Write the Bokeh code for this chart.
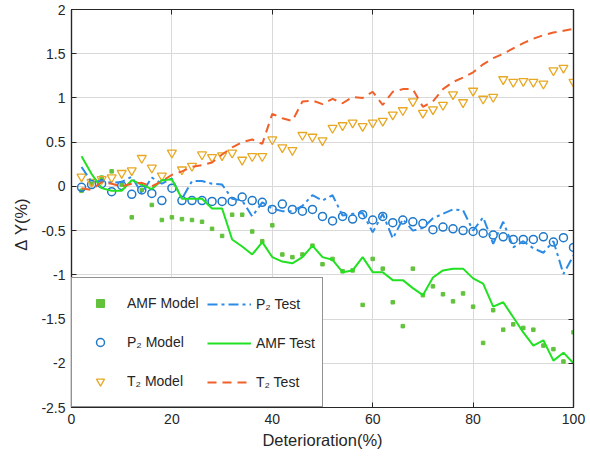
from bokeh.plotting import figure
from bokeh.models import Legend, LegendItem, LinearAxis, FixedTicker, Range1d
from bokeh.embed import file_html
from bokeh.resources import INLINE

# ---------------- data ----------------
deterioration = [2, 4, 6, 8, 10, 12, 14, 16, 18, 20, 22, 24, 26, 28, 30, 32, 34, 36, 38, 40,
                 42, 44, 46, 48, 50, 52, 54, 56, 58, 60, 62, 64, 66, 68, 70, 72, 74, 76, 78, 80,
                 82, 84, 86, 88, 90, 92, 94, 96, 98, 100]

amf_model = [-0.05, 0.03, 0.10, 0.17, 0.02, -0.35, -0.04, -0.21, -0.38, -0.35,
             -0.37, -0.38, -0.40, -0.48, -0.56, -0.32, -0.32, -0.51, -0.62, -0.44,
             -0.77, -0.80, -0.77, -0.67, -0.88, -0.82, -0.96, -0.95, -1.34, -0.82,
             -0.93, -1.31, -1.58, -0.93, -1.23, -1.13, -1.22, -1.30, -1.21, -1.36,
             -1.77, -1.40, -1.62, -1.56, -1.60, -1.62, -1.80, -1.84, -1.98, -1.65]

p2_model = [-0.01, 0.02, 0.03, -0.06, 0.01, -0.09, -0.04, -0.08, -0.16, -0.02,
            -0.16, -0.16, -0.16, -0.17, -0.17, -0.17, -0.12, -0.16, -0.18, -0.26,
            -0.20, -0.26, -0.28, -0.26, -0.34, -0.39, -0.34, -0.37, -0.32, -0.38,
            -0.34, -0.41, -0.38, -0.40, -0.42, -0.49, -0.46, -0.48, -0.50, -0.51,
            -0.53, -0.55, -0.57, -0.60, -0.60, -0.60, -0.57, -0.63, -0.58, -0.69]

t2_model = [0.11, 0.05, 0.08, 0.10, 0.15, 0.18, 0.32, 0.21, 0.12, 0.38,
            0.19, 0.23, 0.36, 0.33, 0.35, 0.38, 0.30, 0.34, 0.34, 0.53,
            0.44, 0.41, 0.58, 0.56, 0.52, 0.66, 0.69, 0.72, 0.68, 0.72,
            0.74, 0.81, 0.86, 0.96, 0.83, 0.87, 0.92, 1.04, 0.95, 1.08,
            0.99, 1.01, 1.21, 1.18, 1.19, 1.18, 1.16, 1.31, 1.34, 1.18]

p2_test = [0.22, 0.05, 0.06, 0.04, 0.05, 0.11, -0.08, 0.10, 0.03, 0.09,
           -0.14, 0.06, 0.06, 0.03, 0.02, -0.14, -0.16, -0.34, -0.18, -0.25,
           -0.28, -0.28, -0.22, -0.10, -0.16, -0.10, -0.33, -0.31, -0.30, -0.52,
           -0.31, -0.59, -0.37, -0.50, -0.47, -0.36, -0.31, -0.26, -0.27, -0.50,
           -0.35, -0.65, -0.40, -0.69, -0.62, -0.70, -0.75, -0.62, -0.99, -0.78]

amf_test = [0.34, 0.14, -0.02, -0.05, -0.05, 0.07, 0.02, -0.03, 0.07, 0.08,
            -0.14, -0.14, -0.14, -0.25, -0.25, -0.60, -0.68, -0.77, -0.63, -0.80,
            -0.85, -0.87, -0.80, -0.67, -0.80, -0.83, -0.97, -0.95, -0.80, -0.97,
            -0.97, -1.06, -1.06, -1.15, -1.23, -1.03, -0.95, -0.93, -0.93, -1.04,
            -1.10, -1.36, -1.31, -1.48, -1.65, -1.80, -1.74, -1.97, -1.88, -2.00]

t2_test = [-0.02, -0.04, 0.05, 0.03, 0.00, 0.03, 0.04, 0.00, 0.06, 0.13,
           0.17, 0.22, 0.24, 0.27, 0.36, 0.44, 0.50, 0.53, 0.48, 0.82,
           0.77, 0.74, 0.96, 0.97, 0.93, 0.99, 0.94, 1.01, 1.00, 1.07,
           0.92, 1.07, 1.10, 1.10, 0.90, 0.96, 1.10, 1.18, 1.23, 1.29,
           1.38, 1.45, 1.50, 1.56, 1.62, 1.67, 1.71, 1.74, 1.76, 1.78]

x_ticks = [0, 20, 40, 60, 80, 100]
y_ticks = [-2.5, -2, -1.5, -1, -0.5, 0, 0.5, 1, 1.5, 2]
y_tick_labels = ["-2.5", "-2", "-1.5", "-1", "-0.5", "0", "0.5", "1", "1.5", "2"]

# ---------------- styling ----------------
FONT = "Liberation Sans"
AX = "#262626"
C_AMF_M = "#62c23c"
C_P2 = "#1f78c8"
C_T2_M = "#e8a823"
C_P2_T = "#2b8be6"
C_AMF_T = "#22e022"
C_T2_T = "#f0612a"

p = figure(width=588, height=454, output_backend="svg", toolbar_location=None,
           x_range=Range1d(0, 100), y_range=Range1d(-2.5, 2),
           min_border_left=71, min_border_right=15, min_border_top=9, min_border_bottom=47,
           background_fill_color="white", border_fill_color="white")
p.outline_line_color = AX
p.outline_line_width = 1.2

p.xaxis.ticker = FixedTicker(ticks=x_ticks)
p.yaxis.ticker = FixedTicker(ticks=y_ticks)
p.yaxis.major_label_overrides = {v: s for v, s in zip(y_ticks, y_tick_labels)}
for ax in (p.xaxis[0], p.yaxis[0]):
    ax.major_tick_in = 5
    ax.major_tick_out = 0
    ax.minor_tick_in = 0
    ax.minor_tick_out = 0
    ax.axis_line_color = AX
    ax.axis_line_width = 1.2
    ax.major_tick_line_color = AX
    ax.major_label_text_font = FONT
    ax.major_label_text_font_size = "14px"
    ax.major_label_text_color = AX
    ax.axis_label_text_font = FONT
    ax.axis_label_text_font_size = "16.5px"
    ax.axis_label_text_font_style = "normal"
    ax.axis_label_text_color = AX
p.xaxis.axis_label = "Deterioration(%)"
p.yaxis.axis_label = "\u0394\u00a0Y(%)" + "\u00a0" * 7
p.xaxis.major_label_standoff = 6
p.yaxis.major_label_standoff = 6
p.xaxis.axis_label_standoff = 4
p.yaxis.axis_label_standoff = 8

# extra axes for inward ticks on top and right (no labels)
top_ax = LinearAxis(ticker=FixedTicker(ticks=x_ticks),
                    major_label_overrides={v: "" for v in x_ticks},
                    major_label_text_color=None,
                    major_tick_in=5, major_tick_out=0, minor_tick_in=0, minor_tick_out=0,
                    axis_line_color=AX, axis_line_width=1.2, major_tick_line_color=AX,
                    major_label_standoff=0)
right_ax = LinearAxis(ticker=FixedTicker(ticks=y_ticks),
                      major_label_overrides={v: "" for v in y_ticks},
                      major_label_text_color=None,
                      major_tick_in=5, major_tick_out=0, minor_tick_in=0, minor_tick_out=0,
                      axis_line_color=AX, axis_line_width=1.2, major_tick_line_color=AX,
                      major_label_standoff=0)
p.add_layout(top_ax, "above")
p.add_layout(right_ax, "right")

p.xgrid.ticker = FixedTicker(ticks=x_ticks)
p.ygrid.ticker = FixedTicker(ticks=y_ticks)
p.xgrid.grid_line_color = "#d9d9d9"
p.ygrid.grid_line_color = "#d9d9d9"

# ---------------- glyphs ----------------
r_amf_m = p.scatter(deterioration, amf_model, marker="square", size=3.5,
                    fill_color=C_AMF_M, line_color=C_AMF_M)
r_p2_m = p.scatter(deterioration, p2_model, marker="circle", size=8,
                   fill_color=None, line_color=C_P2, line_width=1.5)
r_t2_m = p.scatter(deterioration, t2_model, marker="inverted_triangle", size=9,
                   fill_color=None, line_color=C_T2_M, line_width=1.3)
r_p2_t = p.line(deterioration, p2_test, line_color=C_P2_T, line_width=2, line_dash="10 4 3 4")
r_amf_t = p.line(deterioration, amf_test, line_color=C_AMF_T, line_width=2)
r_t2_t = p.line(deterioration, t2_test, line_color=C_T2_T, line_width=2, line_dash="9 6")

common = dict(glyph_height=20, spacing=19, margin=0,
              label_text_font=FONT, label_text_font_size="14px", label_text_color=AX)

leg1 = Legend(items=[LegendItem(label="AMF Model", renderers=[r_amf_m]),
                     LegendItem(label="P\u2082 Model", renderers=[r_p2_m]),
                     LegendItem(label="T\u2082 Model", renderers=[r_t2_m])],
              location=(0, 0), padding=15, glyph_width=26, label_standoff=14, label_width=180,
              border_line_color=AX, border_line_width=1.2,
              background_fill_color="white", background_fill_alpha=1.0, **common)
# second column: no border, so no padding is applied -> offset by the padding
leg2 = Legend(items=[LegendItem(label="P\u2082 Test", renderers=[r_p2_t]),
                     LegendItem(label="AMF Test", renderers=[r_amf_t]),
                     LegendItem(label="T\u2082 Test", renderers=[r_t2_t])],
              location=(136, 15), padding=0, glyph_width=44, label_standoff=5,
              border_line_color=None, background_fill_alpha=0.0, **common)
p.add_layout(leg1)
p.add_layout(leg2)

open("out.html", "w").write(file_html(p, INLINE))
